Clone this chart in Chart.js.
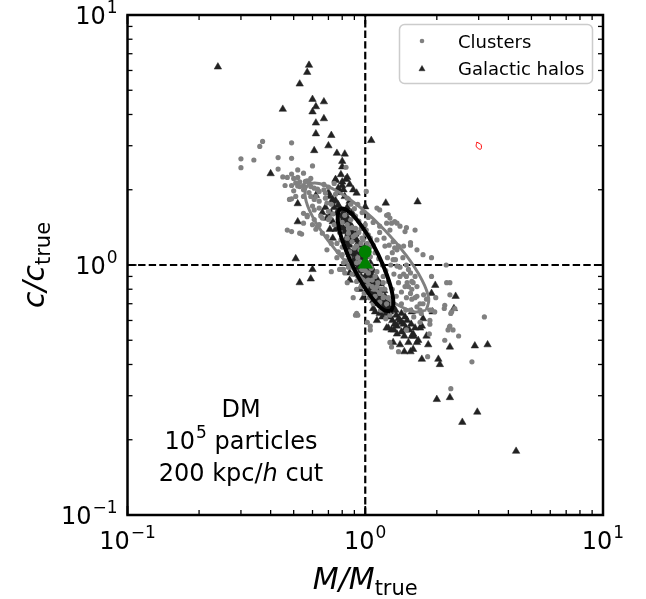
<!DOCTYPE html>
<html>
<head>
<meta charset="utf-8">
<script src="https://cdn.jsdelivr.net/npm/chart.js@4.4.1/dist/chart.umd.min.js"></script>
<style>
html, body { margin: 0; padding: 0; background: #fff; }
#wrap { width: 646px; height: 599px; }
</style>
</head>
<body>
<div id="wrap"><canvas id="chart" width="646" height="599"></canvas></div>
<script>
// M/M_true, c/c_true pairs
var clusters = [
    [0.37,3.12],[0.36,2.98],[0.49,3.08],[0.30,2.66],[0.30,2.45],[0.34,2.63],[0.43,2.69],[0.49,2.67],[0.43,2.42],[0.52,2.40],
    [0.55,2.33],[0.49,2.31],[0.47,2.24],[0.45,2.25],[0.50,2.22],[0.52,2.24],[0.59,2.22],[0.57,2.17],[0.60,2.49],[0.83,2.46],
    [0.46,2.08],[0.49,2.08],[0.51,2.13],[0.53,2.15],[0.53,2.06],[0.55,2.08],[0.58,2.15],[0.59,2.06],[0.56,2.16],[0.49,1.84],
    [0.50,1.98],[0.55,2.00],[0.52,2.07],[0.62,1.88],[0.64,1.69],[0.69,1.77],[0.70,1.64],[0.71,1.54],[0.65,1.57],[0.64,1.45],
    [0.55,1.47],[0.57,1.58],[0.54,1.33],[0.48,1.83],[0.61,2.03],[0.64,1.97],[0.67,2.00],[0.61,1.83],[0.55,1.61],[0.61,1.66],
    [0.66,1.54],[0.70,1.52],[0.53,1.34],[0.60,1.45],[0.62,1.39],[0.67,2.10],[0.63,2.01],[0.68,1.94],[0.59,1.88],[0.55,1.88],
    [0.51,1.88],[0.47,1.38],[0.49,1.36],[0.57,1.56],[0.61,1.52],[0.63,1.43],[0.66,1.34],[0.69,1.30],[0.72,1.22],[0.69,1.15],
    [0.79,1.26],[0.77,1.13],[0.80,0.96],[0.82,0.93],[0.84,0.85],[0.92,0.80],[0.89,0.74],[0.92,0.64],[0.91,0.63],[0.84,1.45],
    [0.88,1.41],[0.85,1.34],[0.91,1.32],[0.88,1.24],[0.92,1.19],[0.97,1.28],[0.95,1.15],[1.05,1.08],[0.86,1.13],[0.84,1.12],
    [0.86,1.07],[0.92,1.02],[0.97,0.96],[1.03,0.93],[0.98,0.87],[1.07,0.87],[1.12,0.82],[1.15,0.77],[1.19,0.85],[1.09,0.80],
    [1.05,0.99],[1.12,0.94],[1.19,0.90],[1.21,0.80],[1.25,0.74],[1.15,0.71],[1.01,0.82],[0.93,0.90],[0.91,0.94],[0.88,0.99],
    [0.81,0.96],[0.76,1.07],[0.81,1.02],[0.72,0.94],[0.78,0.96],[1.01,1.97],[1.12,1.69],[1.15,1.66],[1.25,1.59],[1.27,1.54],
    [1.33,1.49],[1.23,1.47],[1.15,1.43],[1.27,1.38],[1.05,1.28],[1.12,1.26],[1.21,1.19],[1.31,1.24],[1.33,1.17],[1.00,1.45],
    [1.01,1.38],[1.03,1.32],[0.98,1.26],[1.23,1.58],[1.29,1.47],[1.36,1.47],[1.40,1.43],[1.47,1.36],[1.62,1.38],[1.38,1.19],
    [1.45,1.19],[1.55,1.23],[1.49,1.41],[1.55,1.20],[1.65,1.15],[1.75,1.10],[1.90,1.07],[2.19,1.00],[1.90,0.90],[1.52,0.96],
    [1.49,0.90],[1.59,0.85],[1.65,0.75],[1.70,0.66],[1.87,0.58],[2.27,0.85],[2.27,0.76],[2.15,0.67],[2.31,0.65],[2.27,0.57],
    [2.47,0.52],[3.17,0.62],[2.81,0.41],[1.90,0.66],[1.49,0.55],[1.27,0.49],[1.38,0.45],[1.27,0.63],[2.29,0.32],[1.29,0.47],
    [1.83,0.43],[2.16,0.50],[2.34,0.55],[2.26,0.565],[1.86,0.53],[2.16,0.69],[2.29,0.64],[1.98,0.74],[1.02,0.59],[1.05,0.57],
    [1.75,0.70],[1.96,0.65],[1.52,0.82],[1.55,0.77],[1.49,0.74],[1.57,0.73],[1.36,1.15],[1.44,1.07],[1.49,1.00],[1.55,0.93],
    [1.62,0.90],[1.65,0.82],[1.47,0.82],[1.40,0.90],[1.57,0.86],[1.36,0.99],[1.31,1.05],[1.65,0.68],[1.55,0.66],[1.72,0.64],
    [1.87,0.66],[1.81,0.73],[1.76,0.76],[2.20,0.85],[2.38,0.67],[2.23,0.55],[1.87,0.60],[1.70,0.59],[1.05,0.55],[0.93,0.63],
    [1.70,0.70],
    [0.82,1.58],[0.80,1.48],[0.85,1.40],[0.84,1.28],[0.89,1.30],[0.90,1.17],[0.96,1.22],[0.93,1.07],[0.99,1.12],[0.95,1.03],
    [1.02,1.02],[1.00,0.95],[1.06,0.97],[1.03,0.87],[1.10,0.90],[1.07,0.82],[1.13,0.85],[1.10,0.75],[1.17,0.80],[1.19,0.74],
    [1.23,0.70],[1.14,0.69],[0.87,1.52],[0.91,1.40],[0.94,1.35],[0.97,1.40],
    [0.68,1.85],[0.72,1.75],[0.75,1.92],[0.73,1.60],[0.77,1.52],[0.74,1.45],[0.78,1.35],[0.76,1.22],[0.80,1.18],[0.80,1.10],
    [0.83,1.04],[0.85,0.98],[0.88,0.92],[0.92,0.86],[0.96,0.82],[0.99,0.77],[1.04,0.74],[1.08,0.70],[1.16,0.66],[1.22,0.61],
    [1.30,0.70],[1.35,0.75],[1.30,0.80],[1.25,0.86],[1.22,0.95],[1.18,1.00],[1.14,1.06],[1.10,1.12],[1.08,1.20],[1.05,1.18],
    [1.02,1.22],[1.00,1.33],[0.96,1.40],[0.94,1.50],[0.91,1.57],[0.90,1.68],[0.87,1.75],[0.84,1.85],[0.97,1.62],[1.03,1.55],
    [1.08,1.48],[1.15,1.35],[1.20,1.28],[1.26,1.20],[1.30,1.12],[1.34,1.05],[1.40,0.98],[1.45,0.92],[1.50,0.85],[1.57,0.80],
    [1.62,0.74],[1.42,0.78],[1.38,0.85],[1.32,0.92],[1.28,1.00],[1.24,1.07],[1.42,0.70],[1.48,0.66],[1.60,0.62],[0.93,1.75],
    [0.70,2.05],[0.74,2.12],[0.64,1.80],[0.60,1.72],[0.58,1.95]
];

var halos = [
    [0.24,6.2],[0.58,6.3],[0.57,5.9],[0.53,5.3],[0.60,4.6],[0.67,4.5],[0.62,4.3],[0.60,4.1],[0.45,4.2],[0.67,3.85],
    [0.62,3.7],[0.62,3.35],[0.72,3.3],[1.06,3.15],[0.70,3.0],[0.61,2.87],[0.76,2.8],[0.82,2.78],[0.80,2.6],[0.80,2.47],
    [0.40,2.32],[0.83,2.2],[0.75,2.2],[0.80,2.08],[0.77,2.03],[0.81,2.0],[0.89,2.0],[0.62,1.9],[0.71,1.88],[0.73,1.83],
    [1.22,1.77],[1.66,1.79],[0.52,1.76],[0.75,1.81],[0.77,1.74],[1.0,1.71],[0.52,1.49],[0.69,1.54],[0.73,1.28],[0.71,1.39],
    [0.72,1.61],[0.51,1.06],[0.60,0.96],[0.59,0.88],[0.53,0.85],[1.97,0.83],[1.90,0.77],[2.40,0.75],[2.36,0.67],[1.92,0.65],
    [1.75,0.61],[1.47,0.62],[1.42,0.59],[1.36,0.57],[1.49,0.55],[1.59,0.53],[1.73,0.57],[1.84,0.48],[2.27,0.47],[1.73,0.42],
    [2.03,0.42],[2.06,0.40],[2.89,0.475],[3.27,0.48],[1.52,0.49],[1.57,0.52],[1.31,0.49],[1.59,0.46],[1.46,0.45],[1.67,0.50],
    [0.86,0.87],[0.86,0.93],[0.95,0.80],[1.08,0.67],[1.19,0.68],[1.27,0.62],[1.40,0.60],[1.25,0.56],[1.40,0.48],[1.70,0.56],
    [1.81,0.52],[1.57,0.65],[0.98,0.74],[1.19,0.73],[1.27,0.65],[1.42,0.54],[1.23,0.56],[1.55,0.45],[2.0,0.29],[2.27,0.295],
    [2.96,0.258],[2.56,0.235],[4.31,0.18],[0.78,1.69],[0.80,1.59],[0.81,1.49],[0.84,1.43],[0.88,1.36],[0.84,1.30],[0.92,1.26],
    [0.75,2.18],[0.80,2.15],[0.84,2.24],[0.92,1.94],[0.73,1.80],[0.73,1.49],[0.75,1.39],[0.90,1.10],[0.95,1.00],[0.88,1.05],
    [1.00,0.90],[1.05,0.85],[0.92,0.95],[1.10,0.78],[0.98,0.85],[0.85,1.15],[1.02,0.95],[0.95,1.20],[1.08,0.88],[1.15,0.75],
    [1.20,0.70],[1.12,0.72],[1.30,0.60],[1.35,0.63],[1.10,0.65],
    [0.80,1.55],[0.83,1.50],[0.79,1.42],[0.86,1.46],[0.82,1.36],[0.87,1.32],[0.83,1.25],[0.90,1.28],[0.86,1.20],[0.93,1.22],
    [0.87,1.12],[0.93,1.13],[0.98,1.16],[0.89,1.02],[0.96,1.06],[1.01,1.08],[0.93,0.98],[0.99,1.00],[1.05,1.02],[0.96,0.90],
    [1.02,0.92],[1.08,0.95],[1.00,0.83],[1.06,0.86],[1.12,0.88],[1.04,0.78],[1.10,0.81],[1.16,0.84],[1.08,0.72],[1.14,0.76],
    [1.20,0.79],[1.17,0.69],[1.23,0.72],[1.26,0.68],[1.22,0.64],[1.30,0.66],[1.33,0.58],[1.38,0.61],[1.45,0.58],[1.50,0.60],
    [1.46,0.52],[1.53,0.55],[1.62,0.56],[1.65,0.49],[1.36,0.53],[1.29,0.55],[1.18,0.62],[1.12,0.60],
    [0.78,1.95],[0.82,1.88],[0.86,1.80],[0.84,1.70],[0.88,1.62],[0.76,1.62],[0.74,1.70],[0.79,2.30],[0.86,2.10],[0.70,1.95],
    [0.68,1.70],[0.66,1.62],
    [0.81,1.62],[0.79,1.50],[0.84,1.55],[0.81,1.40],[0.85,1.34],[0.88,1.42],[0.84,1.21],[0.88,1.27],[0.91,1.33],[0.86,1.10],
    [0.90,1.15],[0.94,1.17],[0.91,1.06],[0.95,1.10],[0.98,1.05],[0.92,0.92],[0.97,0.95],[1.01,0.98],[1.04,0.96],[0.99,0.88],
    [1.03,0.89],[1.07,0.91],[1.01,0.79],[1.05,0.81],[1.09,0.84],[1.13,0.80],[1.07,0.76],[1.11,0.70],[1.16,0.73],[1.21,0.75],
    [1.19,0.66],[1.24,0.66],[1.28,0.70],[1.15,0.64],[1.34,0.66],[1.32,0.55],[1.42,0.64],[1.48,0.56],[1.56,0.58],[1.60,0.52]
];

// contour outlines, traced around the figure
var clusterContour = [
    [1.806,0.660],[1.850,0.733],[1.729,0.874],[1.490,1.090],[1.212,1.374],[0.960,1.690],[0.766,1.968],[0.639,2.119],
    [0.573,2.082],[0.559,1.876],[0.598,1.572],[0.694,1.261],[0.853,1.000],[1.078,0.813],[1.349,0.698],[1.619,0.649],
    [1.806,0.660]
];
var haloContour = [
    [1.276,0.652],[1.312,0.689],[1.296,0.779],[1.230,0.918],[1.132,1.105],[1.023,1.318],[0.922,1.518],[0.840,1.652],
    [0.788,1.675],[0.766,1.583],[0.775,1.402],[0.817,1.189],[0.887,0.988],[0.982,0.828],[1.090,0.719],[1.196,0.661],
    [1.276,0.652]
];
var redContour = [[2.944,3.098],[3.068,3.030],[3.059,2.905],[2.935,2.970],[2.944,3.098]];

var clusterMedian = [1.0, 1.13];
var haloMedian = [1.0, 1.01];

var majorTicks = [0.1, 1, 10];
var majorExp = ['\u22121', '0', '1'];
var minorTicks = [0.2, 0.3, 0.4, 0.5, 0.6, 0.7, 0.8, 0.9, 2, 3, 4, 5, 6, 7, 8, 9];

var FONT = '"DejaVu Sans", "Liberation Sans", sans-serif';

function toPoints(list) {
    return list.map(function(p) { return { x: p[0], y: p[1] }; });
}

function drawPow(ctx, exp, x, y, align, size) {
    var sub = Math.round(size * 0.7);
    ctx.font = size + 'px ' + FONT;
    var wb = ctx.measureText('10').width;
    ctx.font = sub + 'px ' + FONT;
    var we = ctx.measureText(exp).width;
    var total = wb + we + 1;
    var x0 = x;
    if (align === 'right') x0 = x - total;
    if (align === 'center') x0 = x - total / 2;
    ctx.textAlign = 'left';
    ctx.textBaseline = 'alphabetic';
    ctx.font = size + 'px ' + FONT;
    ctx.fillText('10', x0, y);
    ctx.font = sub + 'px ' + FONT;
    ctx.fillText(exp, x0 + wb + 1, y - size * 0.47);
    return total;
}

var decorPlugin = {
    id: 'decor',
    afterDatasetsDraw: function(chart) {
        var ctx = chart.ctx;
        var a = chart.chartArea;
        var xs = chart.scales.x, ys = chart.scales.y;
        ctx.save();
        ctx.strokeStyle = '#000';

        function seg(x1, y1, x2, y2) {
            ctx.beginPath();
            ctx.moveTo(x1, y1);
            ctx.lineTo(x2, y2);
            ctx.stroke();
        }

        // inward ticks on all four sides
        ctx.lineWidth = 1.3;
        minorTicks.forEach(function(v) {
            var px = xs.getPixelForValue(v), py = ys.getPixelForValue(v);
            seg(px, a.bottom, px, a.bottom - 5);
            seg(px, a.top, px, a.top + 5);
            seg(a.left, py, a.left + 5, py);
            seg(a.right, py, a.right - 5, py);
        });
        ctx.lineWidth = 1.8;
        majorTicks.forEach(function(v) {
            var px = xs.getPixelForValue(v), py = ys.getPixelForValue(v);
            seg(px, a.bottom, px, a.bottom - 9);
            seg(px, a.top, px, a.top + 9);
            seg(a.left, py, a.left + 9, py);
            seg(a.right, py, a.right - 9, py);
        });

        ctx.lineWidth = 2.5;
        ctx.strokeRect(a.left, a.top, a.right - a.left, a.bottom - a.top);
        ctx.restore();
    },
    afterDraw: function(chart) {
        var ctx = chart.ctx;
        var a = chart.chartArea;
        var xs = chart.scales.x, ys = chart.scales.y;
        ctx.save();
        ctx.fillStyle = '#000';

        // tick labels
        majorTicks.forEach(function(v, i) {
            drawPow(ctx, majorExp[i], xs.getPixelForValue(v), a.bottom + 34, 'center', 24);
            drawPow(ctx, majorExp[i], a.left - 10, ys.getPixelForValue(v) + 9, 'right', 24);
        });

        // axis titles
        function title(main, sub, cx, baseline) {
            ctx.font = 'italic 30px ' + FONT;
            var w1 = ctx.measureText(main).width;
            ctx.font = '21px ' + FONT;
            var w2 = ctx.measureText(sub).width;
            var x0 = cx - (w1 + w2) / 2;
            ctx.textAlign = 'left';
            ctx.textBaseline = 'alphabetic';
            ctx.font = 'italic 30px ' + FONT;
            ctx.fillText(main, x0, baseline);
            ctx.font = '21px ' + FONT;
            ctx.fillText(sub, x0 + w1, baseline + 6);
        }
        title('M/M', 'true', (a.left + a.right) / 2, 589);
        ctx.save();
        ctx.translate(44, (a.top + a.bottom) / 2);
        ctx.rotate(-Math.PI / 2);
        title('c/c', 'true', 0, 0);
        ctx.restore();

        // annotation
        var cx = 241;
        ctx.textBaseline = 'alphabetic';
        ctx.textAlign = 'center';
        ctx.font = '24px ' + FONT;
        ctx.fillText('DM', cx, 417);

        ctx.font = '24px ' + FONT;
        var wTen = ctx.measureText('10').width;
        var wRest = ctx.measureText(' particles').width;
        ctx.font = '17px ' + FONT;
        var wFive = ctx.measureText('5').width;
        var x0 = cx - (wTen + wFive + 1 + wRest) / 2;
        ctx.textAlign = 'left';
        ctx.font = '24px ' + FONT;
        ctx.fillText('10', x0, 449);
        ctx.font = '17px ' + FONT;
        ctx.fillText('5', x0 + wTen + 1, 449 - 11);
        ctx.font = '24px ' + FONT;
        ctx.fillText(' particles', x0 + wTen + wFive + 1, 449);

        var partA = '200 kpc/', partB = 'h', partC = ' cut';
        ctx.font = '24px ' + FONT;
        var wA = ctx.measureText(partA).width, wC = ctx.measureText(partC).width;
        ctx.font = 'italic 24px ' + FONT;
        var wB = ctx.measureText(partB).width;
        x0 = cx - (wA + wB + wC) / 2;
        ctx.font = '24px ' + FONT;
        ctx.fillText(partA, x0, 481);
        ctx.font = 'italic 24px ' + FONT;
        ctx.fillText(partB, x0 + wA, 481);
        ctx.font = '24px ' + FONT;
        ctx.fillText(partC, x0 + wA + wB, 481);

        // legend box
        var lx = 399.5, ly = 24.5, lw = 193, lh = 59, r = 5;
        ctx.beginPath();
        ctx.moveTo(lx + r, ly);
        ctx.arcTo(lx + lw, ly, lx + lw, ly + lh, r);
        ctx.arcTo(lx + lw, ly + lh, lx, ly + lh, r);
        ctx.arcTo(lx, ly + lh, lx, ly, r);
        ctx.arcTo(lx, ly, lx + lw, ly, r);
        ctx.closePath();
        ctx.fillStyle = 'rgba(255,255,255,0.85)';
        ctx.fill();
        ctx.strokeStyle = '#cccccc';
        ctx.lineWidth = 1.5;
        ctx.stroke();

        ctx.fillStyle = '#808080';
        ctx.beginPath();
        ctx.arc(422, 41, 2.3, 0, Math.PI * 2);
        ctx.fill();
        ctx.fillStyle = '#222222';
        ctx.strokeStyle = '#222222';
        ctx.lineWidth = 0.5;
        Chart.helpers.drawPoint(ctx, { pointStyle: 'triangle', radius: 3.5, borderWidth: 0.5 }, 422, 69);

        ctx.fillStyle = '#000';
        ctx.font = '18px ' + FONT;
        ctx.textAlign = 'left';
        ctx.fillText('Clusters', 458, 47.5);
        ctx.fillText('Galactic halos', 458, 75);
        ctx.restore();
    }
};

var logAxis = function(pos) {
    return {
        type: 'logarithmic',
        position: pos,
        min: 0.1,
        max: 10,
        grid: { display: false, drawTicks: false },
        border: { display: false },
        ticks: { display: false },
        afterBuildTicks: function(scale) {
            scale.ticks = majorTicks.map(function(v) { return { value: v }; });
        },
        afterFit: function(scale) {
            if (pos === 'left') scale.width = 127.5;
            else scale.height = 84;
        }
    };
};

new Chart(document.getElementById('chart'), {
    type: 'scatter',
    data: {
        datasets: [{
            label: 'cluster median',
            data: [{ x: clusterMedian[0], y: clusterMedian[1] }],
            pointStyle: 'circle',
            pointRadius: 6.5,
            backgroundColor: '#008000',
            borderColor: '#008000',
            borderWidth: 0,
            order: 0
        }, {
            label: 'halo median',
            data: [{ x: haloMedian[0], y: haloMedian[1] }],
            pointStyle: 'triangle',
            pointRadius: 9,
            backgroundColor: '#008000',
            borderColor: '#008000',
            borderWidth: 0,
            order: 1
        }, {
            label: 'red contour',
            data: toPoints(redContour),
            showLine: true,
            borderColor: '#ff0000',
            borderWidth: 1,
            pointRadius: 0,
            tension: 0.4,
            order: 2
        }, {
            label: 'halo contour',
            data: toPoints(haloContour),
            showLine: true,
            borderColor: '#000000',
            borderWidth: 4,
            pointRadius: 0,
            tension: 0.4,
            order: 3
        }, {
            label: 'cluster contour',
            data: toPoints(clusterContour),
            showLine: true,
            borderColor: '#808080',
            borderWidth: 3,
            pointRadius: 0,
            tension: 0.4,
            order: 4
        }, {
            label: 'Clusters',
            data: toPoints(clusters),
            pointStyle: 'circle',
            pointRadius: 2.6,
            backgroundColor: '#808080',
            borderColor: '#808080',
            borderWidth: 0,
            order: 5
        }, {
            label: 'Galactic halos',
            data: toPoints(halos),
            pointStyle: 'triangle',
            pointRadius: 4.3,
            backgroundColor: '#222222',
            borderColor: '#222222',
            borderWidth: 0.5,
            order: 6
        }, {
            label: 'M = Mtrue',
            data: [{ x: 1, y: 0.1 }, { x: 1, y: 10 }],
            showLine: true,
            borderColor: '#000',
            borderWidth: 2.2,
            borderDash: [7.4, 3.2],
            pointRadius: 0,
            order: 7
        }, {
            label: 'c = ctrue',
            data: [{ x: 0.1, y: 1 }, { x: 10, y: 1 }],
            showLine: true,
            borderColor: '#000',
            borderWidth: 2.2,
            borderDash: [7.4, 3.2],
            pointRadius: 0,
            order: 8
        }]
    },
    options: {
        responsive: false,
        animation: false,
        layout: { padding: { top: 15, right: 43, left: 0, bottom: 0 } },
        plugins: {
            legend: { display: false },
            tooltip: { enabled: false }
        },
        scales: {
            x: logAxis('bottom'),
            y: logAxis('left')
        }
    },
    plugins: [decorPlugin]
});
</script>
</body>
</html>
